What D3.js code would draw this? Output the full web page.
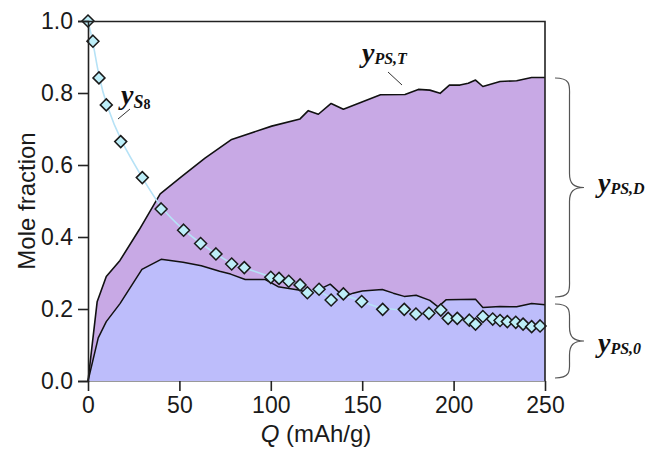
<!DOCTYPE html>
<html><head><meta charset="utf-8">
<script src="https://cdn.jsdelivr.net/npm/d3@7"></script>
<style>body{margin:0;background:#fff}svg{display:block}</style>
</head><body>
<svg id="c" width="653" height="450"></svg>
<script>
// total polysulfide fraction y_PS,T (upper boundary)
const qTotal = [0, 5, 10, 17.5, 28, 39.5, 51, 64, 78.6, 100.5, 116, 120.5, 126, 133, 139.7, 160, 173.4, 180.7, 187, 192.6, 197.7, 203.5, 208, 212, 216, 225.4, 234.5, 242.7, 250];
const yTotal = [0, 0.22, 0.29, 0.335, 0.42, 0.52, 0.567, 0.619, 0.671, 0.708, 0.728, 0.751, 0.741, 0.771, 0.755, 0.795, 0.796, 0.81, 0.808, 0.799, 0.822, 0.822, 0.827, 0.836, 0.818, 0.832, 0.834, 0.843, 0.843];
// y_PS,0 (lower boundary)
const qZero = [0, 5.6, 10, 17.5, 29.5, 40, 52, 62, 72, 78, 86, 97, 104, 110, 116, 120.5, 126, 132.5, 140, 145, 150, 161, 167, 173, 179.5, 187, 191.5, 196, 212, 216, 225.4, 234.5, 242.7, 250];
const yZero = [0, 0.12, 0.165, 0.215, 0.31, 0.338, 0.33, 0.32, 0.305, 0.297, 0.282, 0.282, 0.262, 0.257, 0.252, 0.244, 0.253, 0.269, 0.234, 0.244, 0.25, 0.254, 0.244, 0.235, 0.238, 0.224, 0.206, 0.226, 0.227, 0.204, 0.207, 0.206, 0.215, 0.212];
// y_S8 (diamonds)
const qS8 = [0, 2.7, 6, 10, 17.9, 29.7, 40, 52.3, 61.6, 70, 78.6, 85.5, 100, 104.5, 109.8, 116, 120, 126.4, 133, 139.7, 149.7, 161.2, 173, 179.4, 186.5, 193, 197, 202, 208.6, 212, 216, 221.4, 225.4, 229.4, 234, 238, 242.7, 247.3];
const yS8 = [1.0, 0.944, 0.842, 0.767, 0.665, 0.565, 0.478, 0.419, 0.382, 0.353, 0.325, 0.315, 0.288, 0.285, 0.277, 0.267, 0.245, 0.255, 0.225, 0.242, 0.221, 0.199, 0.199, 0.186, 0.188, 0.197, 0.174, 0.174, 0.169, 0.158, 0.179, 0.172, 0.168, 0.165, 0.163, 0.158, 0.151, 0.153];
const xTicks = [0, 50, 100, 150, 200, 250];
const yTicks = [0, 0.2, 0.4, 0.6, 0.8, 1.0];

const svg = d3.select("#c");
const x = d3.scaleLinear().domain([0, 250]).range([88, 545]);
const y = d3.scaleLinear().domain([0, 1]).range([381, 21]);

const tot = qTotal.map((q, i) => [q, yTotal[i]]);
const zer = qZero.map((q, i) => [q, yZero[i]]);
const s8 = qS8.map((q, i) => [q, yS8[i]]);

const area = d3.area().x(d => x(d[0])).y0(y(0)).y1(d => y(d[1]));
const line = d3.line().x(d => x(d[0])).y(d => y(d[1]));

svg.append("path").attr("d", area(tot)).attr("fill", "#c8a9e5");
svg.append("path").attr("d", area(zer)).attr("fill", "#bdbdfb");
svg.append("path").attr("d", line(tot)).attr("fill", "none").attr("stroke", "#111").attr("stroke-width", 1.6).attr("stroke-linejoin", "round");
svg.append("path").attr("d", line(zer)).attr("fill", "none").attr("stroke", "#111").attr("stroke-width", 1.5).attr("stroke-linejoin", "round");

// S8 smooth curve + diamonds
svg.append("path").attr("d", d3.line().curve(d3.curveBasis).x(d => x(d[0])).y(d => y(d[1]))(s8))
  .attr("fill", "none").attr("stroke", "#b6e2f6").attr("stroke-width", 1.6);
svg.selectAll("path.dm").data(s8).join("path").attr("class", "dm")
  .attr("d", d => { const cx = x(d[0]), cy = y(d[1]), r = 6; return `M${cx},${cy-r}L${cx+r},${cy}L${cx},${cy+r}L${cx-r},${cy}Z`; })
  .attr("fill", "#bdeef8").attr("stroke", "#1a1a1a").attr("stroke-width", 1.5);

// axes
const fs = "23px";
const xAxis = svg.append("g").attr("transform", "translate(0,381)")
  .call(d3.axisBottom(x).tickValues(xTicks).tickSize(10).tickPadding(6).tickFormat(d3.format("d")));
const yAxis = svg.append("g").attr("transform", "translate(88,0)")
  .call(d3.axisLeft(y).tickValues(yTicks).tickSize(10).tickPadding(5).tickFormat(d3.format(".1f")));
[xAxis, yAxis].forEach(g => {
  g.selectAll("path.domain").attr("stroke", "#222").attr("stroke-width", 1.6);
  g.selectAll("line").attr("stroke", "#222").attr("stroke-width", 1.6);
  g.selectAll("text").attr("font-family", "Liberation Sans, Arial, sans-serif").attr("font-size", fs).attr("fill", "#1a1a1a");
});
xAxis.select("path.domain").attr("stroke", "#999").attr("stroke-width", 1);
// box
svg.append("path").attr("d", `M88,21.5H545V381`).attr("fill", "none").attr("stroke", "#222").attr("stroke-width", 1.6);

// axis titles
svg.append("text").attr("transform", "translate(35,201) rotate(-90)").attr("text-anchor", "middle")
  .attr("font-family", "Liberation Sans, Arial, sans-serif").attr("font-size", "24px").attr("fill", "#1a1a1a").text("Mole fraction");
const xt = svg.append("text").attr("x", 316).attr("y", 442).attr("text-anchor", "middle")
  .attr("font-family", "Liberation Sans, Arial, sans-serif").attr("font-size", "24px").attr("fill", "#1a1a1a");
xt.append("tspan").attr("font-style", "italic").text("Q");
xt.append("tspan").text(" (mAh/g)");

// annotations
const serif = "Liberation Serif, DejaVu Serif, serif";
function lab(px, py) {
  const t = svg.append("text").attr("x", px).attr("y", py).attr("font-family", serif)
    .attr("font-style", "italic").attr("font-weight", "bold").attr("fill", "#111");
  t.append("tspan").attr("font-size", "28px").text("y");
  return t;
}
let t1 = lab(121, 104);
t1.append("tspan").attr("font-size", "18px").attr("dy", 4).text("S");
t1.append("tspan").attr("font-size", "14px").attr("font-style", "normal").attr("dy", 1).text("8");
svg.append("line").attr("x1", 118).attr("y1", 119).attr("x2", 130).attr("y2", 109).attr("stroke", "#333").attr("stroke-width", 1);

let t2 = lab(362, 62);
t2.append("tspan").attr("font-size", "16px").attr("dy", 2).text("PS,T");
svg.append("line").attr("x1", 388).attr("y1", 72).attr("x2", 402).attr("y2", 85).attr("stroke", "#333").attr("stroke-width", 1);

let t3 = lab(598, 192);
t3.append("tspan").attr("font-size", "16px").attr("dy", 2).text("PS,D");
let t4 = lab(598, 352);
t4.append("tspan").attr("font-size", "16px").attr("dy", 2).text("PS,0");

function brace(top, bot, x0, tipX) {
  const mid = (top + bot) / 2, xm = x0 + (tipX - x0) * 0.5;
  return `M${x0},${top} C${xm+2},${top} ${xm},${top+8} ${xm},${top+18} L${xm},${mid-14} C${xm},${mid-4} ${xm+4},${mid} ${tipX},${mid}` +
         ` C${xm+4},${mid} ${xm},${mid+4} ${xm},${mid+14} L${xm},${bot-18} C${xm},${bot-8} ${xm+2},${bot} ${x0},${bot}`;
}
svg.append("path").attr("d", brace(78, 297, 555, 584)).attr("fill", "none").attr("stroke", "#555").attr("stroke-width", 1.2);
svg.append("path").attr("d", brace(304, 378, 555, 584)).attr("fill", "none").attr("stroke", "#555").attr("stroke-width", 1.2);
</script>
</body></html>
